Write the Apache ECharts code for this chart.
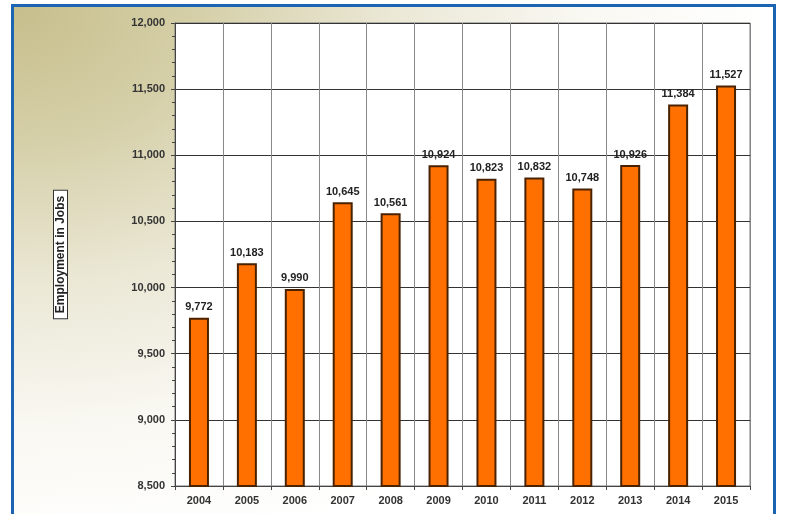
<!DOCTYPE html>
<html>
<head>
<meta charset="utf-8">
<script src="https://cdn.jsdelivr.net/npm/echarts@6/dist/echarts.min.js"></script>
<style>
  body { margin: 0; background: #fff; }
  #frame {
    position: absolute; left: 11px; top: 4px; width: 759px; height: 530px;
    border: 3px solid #1b63b3;
    background: radial-gradient(ellipse 760px 560px at 0 0, #c6be8b 0%, #d6d0aa 25%, #ebe8d6 50%, #f9f8f2 75%, #ffffff 100%);
  }
  #main { position: absolute; left: 0; top: 0; width: 785px; height: 514px; }
</style>
</head>
<body>
<div id="frame"></div>
<div id="main"></div>
<script>
var years = ['2004', '2005', '2006', '2007', '2008', '2009', '2010', '2011', '2012', '2013', '2014', '2015'];
var jobs = [9772, 10183, 9990, 10645, 10561, 10924, 10823, 10832, 10748, 10926, 11384, 11527];

var fmt = function (v) {
  return String(v).replace(/\B(?=(\d{3})+(?!\d))/g, ',');
};

var font = 'Liberation Sans';
var chart = echarts.init(document.getElementById('main'));
var option = {
  backgroundColor: 'transparent',
  animation: false,
  grid: {
    left: 175, right: 35, top: 23, bottom: 28,
    show: true, backgroundColor: '#fff', borderColor: '#777', borderWidth: 1
  },
  xAxis: {
    type: 'category',
    data: years,
    axisLine: { lineStyle: { color: '#444', width: 1 } },
    axisTick: { show: true, length: 4, lineStyle: { color: '#444' } },
    axisLabel: { color: '#333', fontWeight: 'bold', fontSize: 11, margin: 9, fontFamily: font },
    splitLine: { show: true, lineStyle: { color: '#888', width: 1 } }
  },
  yAxis: {
    type: 'value',
    min: 8500, max: 12000, interval: 500,
    name: 'Employment in Jobs',
    nameLocation: 'middle',
    nameRotate: 90,
    nameGap: 108,
    nameTextStyle: {
      color: '#222', fontWeight: 'bold', fontSize: 12, fontFamily: font,
      borderColor: '#333', borderWidth: 1, padding: [1, 5, 0, 5], backgroundColor: '#fff'
    },
    axisLine: { show: true, lineStyle: { color: '#444', width: 1 } },
    axisTick: { show: true, length: 4, lineStyle: { color: '#444' } },
    minorTick: { show: true, splitNumber: 5, length: 3, lineStyle: { color: '#444' } },
    axisLabel: { color: '#333', fontWeight: 'bold', fontSize: 11, margin: 10, fontFamily: font, formatter: fmt },
    splitLine: { show: true, lineStyle: { color: '#333', width: 1 } }
  },
  series: [{
    type: 'bar',
    data: jobs,
    barWidth: 20,
    itemStyle: { color: '#ff7000', borderColor: '#4a2200', borderWidth: 2 },
    label: {
      show: true, position: 'top', distance: 5,
      color: '#222', fontWeight: 'bold', fontSize: 11, fontFamily: font,
      formatter: function (p) { return fmt(p.value); }
    }
  }]
};
chart.setOption(option);
</script>
</body>
</html>
